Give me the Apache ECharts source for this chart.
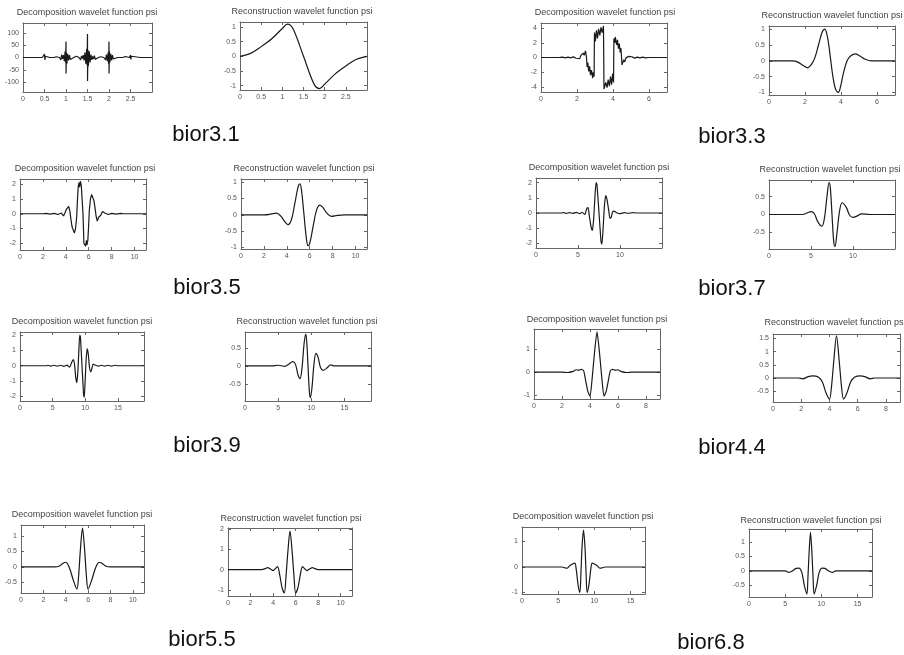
<!DOCTYPE html>
<html>
<head>
<meta charset="utf-8">
<script src="https://cdn.jsdelivr.net/npm/echarts@6/dist/echarts.min.js"></script>
<style>
html,body{margin:0;padding:0;background:#fff;}
#chart{width:904px;height:655px;}
</style>
</head>
<body>
<div id="chart"></div>
<script>
// ---------- Data: [x, psi] points ----------
const dec31 = [[0,0],[0.24,0],[0.25,4],[0.26,-4],[0.27,0],
  [0.45,0],[0.48,6],[0.49,-8],[0.5,14],[0.51,-10],[0.52,5],[0.54,-3],[0.56,0],
  [0.62,0],[0.64,6],[0.65,-6],[0.67,0],[0.72,0],[0.74,8],[0.75,-8],[0.77,3],[0.79,0],
  [0.85,0],[0.87,6],[0.88,-10],[0.9,12],[0.92,-6],[0.94,10],[0.96,-15],[0.98,25],[0.99,-20],[1.0,65],[1.001,-65],[1.01,20],[1.02,-25],[1.04,15],[1.06,-12],[1.08,10],[1.1,-8],[1.12,0],
  [1.18,0],[1.2,6],[1.22,-8],[1.24,5],[1.26,0],[1.3,0],[1.32,8],[1.34,-10],[1.36,6],[1.38,-4],[1.4,10],[1.42,-12],[1.44,20],[1.46,-25],[1.48,35],[1.49,-30],[1.5,95],[1.501,-95],[1.51,30],[1.52,-35],[1.54,25],[1.56,-20],[1.58,12],[1.6,-10],[1.62,4],[1.64,-6],[1.66,8],[1.68,-8],[1.7,0],
  [1.75,0],[1.77,5],[1.79,-6],[1.81,3],[1.83,0],[1.88,0],[1.9,8],[1.92,-10],[1.94,12],[1.96,-15],[1.98,20],[1.99,-25],[2.0,65],[2.001,-65],[2.01,25],[2.02,-20],[2.04,15],[2.06,-12],[2.08,10],[2.1,-6],[2.12,0],
  [2.2,0],[2.22,6],[2.24,-6],[2.26,0],[2.32,0],[2.34,8],[2.36,-8],[2.38,4],[2.4,0],[2.48,0],[2.5,10],[2.51,-8],[2.52,5],[2.54,0],[2.73,0],[2.75,3],[2.76,-3],[2.77,0],[3,0]];
const rec31 = [[0,0],[0.25,0.1],[0.5,0.33],[0.75,0.6],[1.0,0.95],[1.12,1.1],[1.25,0.95],[1.5,0],[1.75,-0.95],[1.88,-1.1],[2.0,-0.95],[2.25,-0.6],[2.5,-0.33],[2.75,-0.1],[3,0]];
const dec33 = [[0,0],[1.0,0],[1.2,0.05],[1.35,-0.05],[1.5,0.05],[1.65,-0.05],[1.8,0.08],[1.95,-0.1],[2.05,0.12],[2.15,-0.15],[2.22,0.3],[2.28,0.05],[2.35,0.6],[2.4,0.3],[2.47,0.9],[2.5,1.0],[2.52,0.2],[2.56,-1.3],[2.6,-0.7],[2.65,-1.9],[2.7,-1.2],[2.75,-2.4],[2.8,-1.7],[2.87,-2.8],[2.9,-2.0],[2.95,-2.6],[2.97,3.4],[3.02,2.2],[3.08,3.7],[3.14,2.6],[3.2,3.9],[3.27,3.0],[3.33,4.1],[3.4,3.4],[3.47,4.3],[3.5,4.3],
  [3.5,-4.3],[3.53,-4.3],[3.6,-3.4],[3.67,-4.1],[3.73,-3.0],[3.8,-3.9],[3.86,-2.6],[3.92,-3.7],[3.98,-2.2],[4.03,-3.4],[4.05,2.6],[4.1,2.0],[4.13,2.8],[4.2,1.7],[4.25,2.4],[4.3,1.2],[4.35,1.9],[4.4,0.7],[4.44,1.3],[4.48,-0.2],[4.5,-1.0],[4.53,-0.9],[4.6,-0.3],[4.65,-0.6],[4.72,-0.05],[4.78,-0.3],[4.85,0.15],[4.95,-0.12],[5.05,0.1],[5.2,-0.08],[5.35,0.05],[5.5,-0.05],[5.65,0.05],[5.8,-0.05],[6.0,0],[7,0]];
const rec33 = [[0,0],[1.3,0],[1.6,-0.04],[1.9,-0.15],[2.15,-0.22],[2.35,-0.12],[2.55,0.1],[2.75,0.5],[2.95,0.9],[3.1,1.0],[3.25,0.75],[3.4,0.15],[3.55,-0.5],[3.7,-0.9],[3.85,-1.0],[4.0,-0.75],[4.15,-0.35],[4.35,0.02],[4.55,0.16],[4.8,0.22],[5.05,0.15],[5.35,0.05],[5.7,0],[7,0]];
const dec35 = [[0,0],[2.0,0],[2.3,0.02],[2.6,-0.02],[3.0,0.03],[3.3,-0.05],[3.6,0.05],[3.8,-0.15],[3.95,0.1],[4.05,0.3],[4.15,0.25],[4.25,0.5],[4.35,0.2],[4.45,-0.4],[4.55,-0.9],[4.65,-1.1],[4.75,-1.3],[4.85,-1.0],[4.95,-0.2],[5.02,1.0],[5.08,1.8],[5.15,2.1],[5.2,1.8],[5.27,2.2],[5.35,1.9],[5.42,2.0],[5.5,0],[5.58,-2.0],[5.65,-1.9],[5.73,-2.2],[5.8,-1.8],[5.85,-2.1],[5.92,-1.8],[5.98,-1.0],[6.05,0.2],[6.15,1.0],[6.25,1.3],[6.35,1.1],[6.45,0.9],[6.55,0.4],[6.65,-0.2],[6.75,-0.5],[6.85,-0.25],[6.95,-0.3],[7.05,-0.1],[7.2,0.15],[7.4,0.05],[7.7,-0.05],[8.0,0.03],[8.4,-0.02],[8.8,0.02],[9.0,0],[11,0]];
const rec35 = [[0,0],[2.0,0],[2.6,0.02],[3.1,0.05],[3.5,-0.05],[3.8,-0.2],[4.1,-0.3],[4.4,-0.15],[4.7,0.35],[5.0,0.88],[5.15,0.95],[5.3,0.7],[5.5,0],[5.7,-0.7],[5.85,-0.95],[6.0,-0.88],[6.3,-0.35],[6.6,0.15],[6.9,0.3],[7.2,0.2],[7.5,0.05],[7.9,-0.05],[8.4,-0.02],[9,0],[11,0]];
const dec37 = [[0,0],[3.0,0],[3.3,0.03],[3.6,-0.03],[4.0,0.03],[4.4,-0.03],[4.8,0.04],[5.2,-0.04],[5.5,0.05],[5.8,-0.1],[6.05,0.3],[6.2,0.35],[6.35,-0.2],[6.55,-0.9],[6.7,-1.15],[6.85,-0.5],[7.0,0.9],[7.15,2.0],[7.25,1.9],[7.4,0.8],[7.5,0],[7.6,-0.8],[7.75,-1.9],[7.85,-2.05],[8.0,-0.9],[8.15,0.5],[8.3,1.15],[8.45,0.9],[8.65,0.2],[8.8,-0.35],[8.95,-0.3],[9.1,0.05],[9.3,0.12],[9.6,0.02],[10,-0.04],[10.5,0.03],[11,-0.03],[11.5,0.03],[12,0],[15,0]];
const rec37 = [[0,0],[4.0,0],[4.6,0.05],[5.0,0.08],[5.4,0.02],[5.8,-0.2],[6.3,-0.33],[6.6,-0.1],[6.9,0.5],[7.15,0.9],[7.3,0.75],[7.5,0],[7.7,-0.75],[7.85,-0.9],[8.1,-0.5],[8.4,0.1],[8.7,0.33],[9.2,0.2],[9.6,-0.02],[10.0,-0.08],[10.5,-0.04],[11,0.02],[12,0],[15,0]];
const dec39 = [[0,0],[4,0],[4.3,0.03],[4.7,-0.03],[5.2,0.03],[5.7,-0.03],[6.2,0.03],[6.7,-0.04],[7.2,0.04],[7.6,-0.1],[7.9,0.2],[8.15,0.4],[8.35,0.1],[8.55,-0.8],[8.7,-1.1],[8.85,-0.5],[9.0,0.8],[9.15,2.0],[9.25,1.9],[9.4,0.8],[9.5,0],[9.6,-0.8],[9.75,-1.9],[9.85,-2.05],[10.0,-0.8],[10.15,0.5],[10.3,1.1],[10.45,0.8],[10.65,-0.1],[10.85,-0.4],[11.0,-0.2],[11.2,0.1],[11.5,0.05],[12,-0.03],[12.5,0.03],[13,-0.03],[13.5,0.03],[14,-0.03],[14.6,0.03],[15,0],[19,0]];
const rec39 = [[0,0],[4,0],[5,0.02],[6,-0.01],[6.6,0.05],[7.2,0.12],[7.6,0.05],[8.0,-0.25],[8.3,-0.35],[8.6,-0.05],[8.9,0.6],[9.15,0.88],[9.3,0.7],[9.5,0],[9.7,-0.7],[9.85,-0.88],[10.1,-0.6],[10.4,0.05],[10.7,0.35],[11.0,0.25],[11.4,-0.05],[11.8,-0.12],[12.4,-0.05],[12.9,0.03],[13.5,0],[19,0]];
const dec44 = [[0,0],[2.0,0],[2.4,-0.02],[2.8,0.03],[3.0,0.1],[3.2,0.08],[3.4,0.12],[3.55,0.05],[3.7,-0.4],[3.85,-0.85],[4.0,-1.05],[4.15,-0.3],[4.3,0.7],[4.5,1.75],[4.7,0.7],[4.85,-0.3],[5.0,-1.05],[5.15,-0.85],[5.3,-0.4],[5.45,0.05],[5.6,0.12],[5.8,0.08],[6.0,0.1],[6.2,0.03],[6.6,-0.02],[7,0],[9,0]];
const rec44 = [[0,0],[1.8,0],[2.1,-0.03],[2.5,0.05],[2.8,0.08],[3.2,0.04],[3.5,-0.15],[3.75,-0.55],[4.0,-0.8],[4.15,-0.3],[4.3,0.6],[4.5,1.6],[4.7,0.6],[4.85,-0.3],[5.0,-0.8],[5.25,-0.55],[5.5,-0.15],[5.8,0.04],[6.2,0.08],[6.5,0.05],[6.9,-0.03],[7.2,0],[9,0]];
const dec55 = [[0,0],[3.0,0],[3.4,0.02],[3.7,0.1],[4.0,0.15],[4.2,0.08],[4.4,-0.1],[4.7,-0.45],[5.0,-0.72],[5.15,-0.3],[5.3,0.5],[5.5,1.25],[5.7,0.5],[5.85,-0.3],[6.0,-0.72],[6.3,-0.45],[6.6,-0.1],[6.8,0.08],[7.0,0.15],[7.3,0.1],[7.6,0.02],[8,0],[11,0]];
const rec55 = [[0,0],[3.0,0],[3.3,0.05],[3.5,0.1],[3.8,0.02],[4.0,-0.05],[4.2,0.05],[4.4,0.15],[4.6,-0.3],[4.8,-0.9],[5.0,-1.15],[5.15,-0.3],[5.3,0.8],[5.5,1.9],[5.7,0.8],[5.85,-0.3],[6.0,-1.15],[6.2,-0.9],[6.4,-0.3],[6.6,0.15],[6.8,0.05],[7.0,-0.05],[7.2,0.02],[7.5,0.1],[7.7,0.05],[8.0,0],[11,0]];
const dec68 = [[0,0],[5.5,0],[5.9,-0.03],[6.2,-0.05],[6.6,0.05],[7.0,0.12],[7.3,0.15],[7.5,-0.1],[7.75,-0.7],[8.0,-1.0],[8.15,-0.2],[8.3,0.8],[8.5,1.45],[8.7,0.8],[8.85,-0.2],[9.0,-1.0],[9.25,-0.7],[9.5,-0.1],[9.7,0.15],[10.0,0.12],[10.4,0.05],[10.8,-0.05],[11.1,-0.03],[11.5,0],[17,0]];
const rec68 = [[0,0],[5.0,0],[5.5,-0.05],[6.0,0.0],[6.5,0.09],[6.9,0.1],[7.3,-0.05],[7.65,-0.5],[8.0,-0.8],[8.15,-0.2],[8.3,0.6],[8.5,1.33],[8.7,0.6],[8.85,-0.2],[9.0,-0.8],[9.35,-0.5],[9.7,-0.05],[10.1,0.1],[10.5,0.09],[11.0,0.0],[11.5,-0.05],[12,0],[17,0]];

// ---------- Tick labels ----------
const xt3 = [0,0.5,1,1.5,2,2.5];
const xt7 = [0,2,4,6];
const xt9 = [0,2,4,6,8];
const xt11 = [0,2,4,6,8,10];
const xt5s = [0,5,10];
const xt5l = [0,5,10,15];
const ytBig = [-100,-50,0,50,100];
const yt4 = [-4,-2,0,2,4];
const yt2 = [-2,-1,0,1,2];
const yt1h = [-1,-0.5,0,0.5,1];
const yth = [-0.5,0,0.5];
const yt1 = [-1,0,1];
const yt15 = [-0.5,0,0.5,1,1.5];
const ytp1 = [-0.5,0,0.5,1];
const ytm2 = [-1,0,1,2];

const decTitle = 'Decomposition wavelet function psi';
const recTitle = 'Reconstruction wavelet function psi';
const waveletNames = ['bior3.1','bior3.3','bior3.5','bior3.7','bior3.9','bior4.4','bior5.5','bior6.8'];

// ---------- Layout (box: left, top, right, bottom in px) ----------
const panels = [
  {data:dec31, smooth:false, box:[23,23,152,92], x:[0,3], y:[-140,140], xt:xt3, yt:ytBig, title:decTitle, tp:[87,13]},
  {data:rec31, smooth:0.35, box:[240,22,367,90], x:[0,3], y:[-1.15,1.17], xt:xt3, yt:yt1h, title:recTitle, tp:[302,12]},
  {data:dec33, smooth:false, box:[541,23,667,92], x:[0,7], y:[-4.7,4.7], xt:xt7, yt:yt4, title:decTitle, tp:[605,13]},
  {data:rec33, smooth:0.35, box:[769,26,895,95], x:[0,7], y:[-1.08,1.1], xt:xt7, yt:yt1h, title:recTitle, tp:[832,16]},
  {data:dec35, smooth:false, box:[20,179,146,250], x:[0,11], y:[-2.45,2.35], xt:xt11, yt:yt2, title:decTitle, tp:[85,169]},
  {data:rec35, smooth:0.35, box:[241,179,367,249], x:[0,11], y:[-1.05,1.1], xt:xt11, yt:yt1h, title:recTitle, tp:[304,169]},
  {data:dec37, smooth:0.2, box:[536,178,662,248], x:[0,15], y:[-2.3,2.3], xt:xt5s, yt:yt2, title:decTitle, tp:[599,168]},
  {data:rec37, smooth:0.35, box:[769,180,895,249], x:[0,15], y:[-0.97,0.97], xt:xt5s, yt:yth, title:recTitle, tp:[830,170]},
  {data:dec39, smooth:0.2, box:[20,332,144,401], x:[0,19], y:[-2.3,2.2], xt:xt5l, yt:yt2, title:decTitle, tp:[82,322]},
  {data:rec39, smooth:0.35, box:[245,332,371,401], x:[0,19], y:[-0.97,0.94], xt:xt5l, yt:yth, title:recTitle, tp:[307,322]},
  {data:dec44, smooth:0.2, box:[534,329,660,399], x:[0,9], y:[-1.17,1.87], xt:xt9, yt:yt1, title:decTitle, tp:[597,320]},
  {data:rec44, smooth:0.3, box:[773,334,900,402], x:[0,9], y:[-0.91,1.67], xt:xt9, yt:yt15, title:recTitle, tp:[835,323]},
  {data:dec55, smooth:0.3, box:[21,525,144,593], x:[0,11], y:[-0.84,1.35], xt:xt11, yt:ytp1, title:decTitle, tp:[82,515]},
  {data:rec55, smooth:0.3, box:[228,528,352,596], x:[0,11], y:[-1.3,2.05], xt:xt11, yt:ytm2, title:recTitle, tp:[291,519]},
  {data:dec68, smooth:0.3, box:[522,527,645,594], x:[0,17], y:[-1.06,1.57], xt:xt5l, yt:yt1, title:decTitle, tp:[583,517]},
  {data:rec68, smooth:0.3, box:[749,529,872,597], x:[0,17], y:[-0.9,1.45], xt:xt5l, yt:ytp1, title:recTitle, tp:[811,521]}
];
const namePos = [[206,135],[732,137],[207,288],[732,289],[207,446],[732,448],[202,640],[711,643]];

const FONT = '"Liberation Sans", Arial, Helvetica, sans-serif';
const AX = '#666';
const grids = [], xAxes = [], yAxes = [], series = [], titles = [];

panels.forEach((p, i) => {
  const [l, t, r, b] = p.box;
  grids.push({left: l, top: t, width: r - l, height: b - t, show: false});
  const tickStyle = {lineStyle: {color: AX, width: 1}};
  const mkX = (pos, showLabel) => ({
    type: 'value', gridIndex: i, position: pos, min: p.x[0], max: p.x[1],
    axisLine: {show: true, onZero: false, lineStyle: {color: AX, width: 1}},
    axisTick: Object.assign({show: true, inside: true, length: 3, customValues: p.xt}, tickStyle),
    axisLabel: {show: showLabel, customValues: p.xt, fontSize: 7, color: '#555', margin: 4, fontFamily: FONT},
    splitLine: {show: false}
  });
  const mkY = (pos, showLabel) => ({
    type: 'value', gridIndex: i, position: pos, min: p.y[0], max: p.y[1],
    axisLine: {show: true, onZero: false, lineStyle: {color: AX, width: 1}},
    axisTick: Object.assign({show: true, inside: true, length: 3, customValues: p.yt}, tickStyle),
    axisLabel: {show: showLabel, customValues: p.yt, fontSize: 7, color: '#555', margin: 4, fontFamily: FONT},
    splitLine: {show: false}
  });
  xAxes.push(mkX('bottom', true), mkX('top', false));
  yAxes.push(mkY('left', true), mkY('right', false));
  series.push({
    type: 'line', xAxisIndex: i * 2, yAxisIndex: i * 2, data: p.data,
    symbol: 'none', showSymbol: false, smooth: p.smooth, clip: true,
    lineStyle: {color: '#1a1a1a', width: 1.2}, silent: true
  });
  titles.push({
    text: p.title, left: p.tp[0], top: p.tp[1], textAlign: 'center', textVerticalAlign: 'middle', padding: 0,
    textStyle: {fontSize: 9, fontWeight: 'normal', color: '#444', fontFamily: FONT}
  });
});

waveletNames.forEach((n, k) => {
  titles.push({
    text: n, left: namePos[k][0], top: namePos[k][1], textAlign: 'center', textVerticalAlign: 'middle', padding: 0,
    textStyle: {fontSize: 22, fontWeight: 'normal', color: '#111', fontFamily: FONT}
  });
});

const chart = echarts.init(document.getElementById('chart'), null, {renderer: 'canvas'});
chart.setOption({
  animation: false,
  backgroundColor: '#fff',
  title: titles,
  grid: grids,
  xAxis: xAxes,
  yAxis: yAxes,
  series: series
});
</script>
</body>
</html>
